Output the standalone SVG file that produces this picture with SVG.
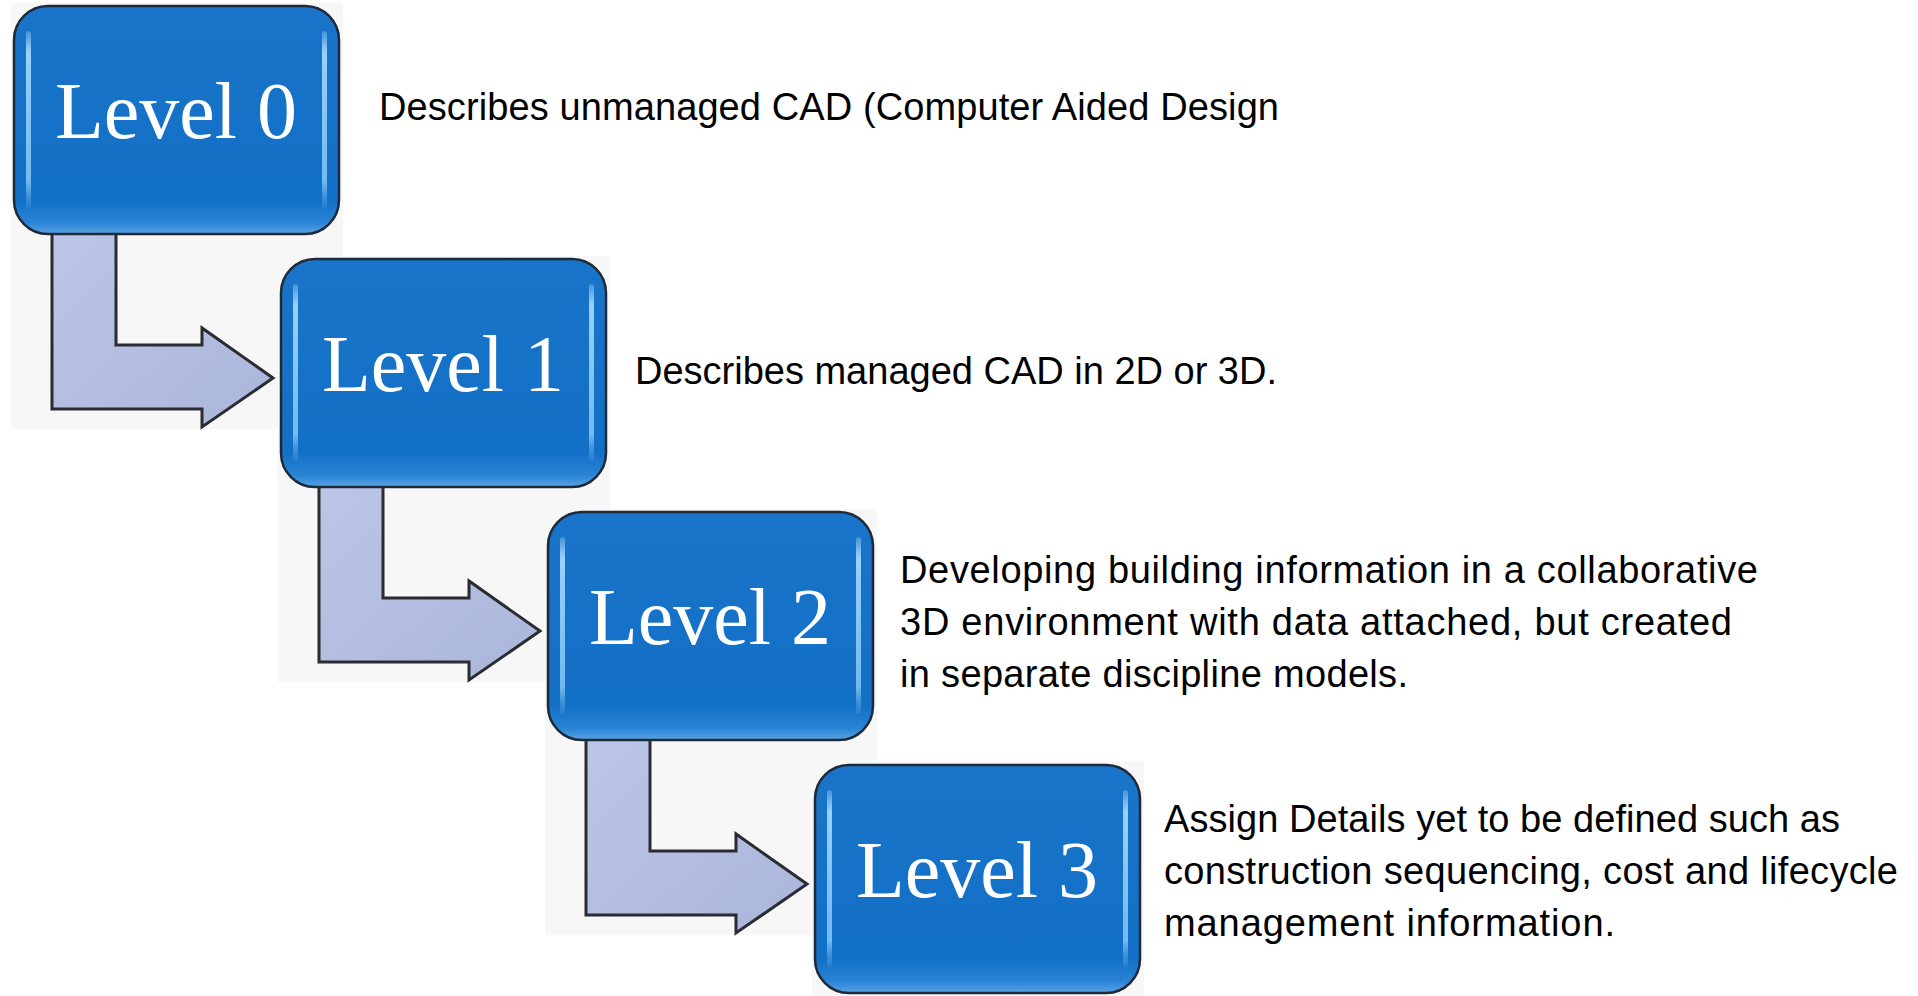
<svg xmlns="http://www.w3.org/2000/svg" width="1918" height="996" viewBox="0 0 1918 996">
  <style>
    .bg { fill: #f7f7f7; }
    .box { fill: url(#boxGrad); stroke: #1e2a38; stroke-width: 2.5; }
    .hl { fill: url(#hlGrad); }
    .lvl { font-family: "Liberation Serif", "DejaVu Serif", serif; font-size: 80px; fill: #ffffff; text-anchor: middle; }
    .desc { font-family: "Liberation Sans", Arial, sans-serif; font-size: 38px; fill: #000000; }
    .arrow { fill: url(#arrowGrad); stroke: #2b2b33; stroke-width: 3; stroke-linejoin: miter; }
  </style>
  <defs>
    <linearGradient id="boxGrad" x1="0" y1="0" x2="0" y2="1">
      <stop offset="0" stop-color="#1a74c9"/>
      <stop offset="0.85" stop-color="#1270c6"/>
      <stop offset="0.95" stop-color="#2a84d6"/>
      <stop offset="1" stop-color="#5aa3e4"/>
    </linearGradient>
    <linearGradient id="hlGrad" x1="0" y1="0" x2="0" y2="1">
      <stop offset="0" stop-color="#a9dcff" stop-opacity="0.3"/>
      <stop offset="0.12" stop-color="#9fd6ff" stop-opacity="0.95"/>
      <stop offset="0.85" stop-color="#7cc2f5" stop-opacity="0.9"/>
      <stop offset="1" stop-color="#5aa8ea" stop-opacity="0.2"/>
    </linearGradient>
    <linearGradient id="arrowGrad" x1="0" y1="0" x2="1" y2="1">
      <stop offset="0" stop-color="#bcc6e6"/>
      <stop offset="1" stop-color="#aab6da"/>
    </linearGradient>
  </defs>

  <g id="backgrounds">
    <rect class="bg" x="11" y="3" width="332" height="426"/>
    <rect class="bg" x="278" y="256" width="332" height="426"/>
    <rect class="bg" x="545" y="509" width="332" height="426"/>
    <rect class="bg" x="812" y="761" width="332" height="235"/>
  </g>

  <g id="connectors">
    <path class="arrow" d="M52,228 L116,228 L116,345 L202,345 L202,328 L273,378 L202,427 L202,409 L52,409 Z"/>
    <path class="arrow" d="M319,481 L383,481 L383,598 L469,598 L469,581 L540,631 L469,680 L469,662 L319,662 Z"/>
    <path class="arrow" d="M586,734 L650,734 L650,851 L736,851 L736,834 L807,884 L736,933 L736,915 L586,915 Z"/>
  </g>

  <g id="level0">
    <rect class="box" x="14" y="6" width="325" height="228" rx="34"/>
    <rect class="hl" x="26" y="31" width="5" height="177" rx="2.5"/>
    <rect class="hl" x="322" y="31" width="5" height="177" rx="2.5"/>
    <text class="lvl" x="176" y="138">Level 0</text>
  </g>
  <g id="level1">
    <rect class="box" x="281" y="259" width="325" height="228" rx="34"/>
    <rect class="hl" x="293" y="284" width="5" height="177" rx="2.5"/>
    <rect class="hl" x="589" y="284" width="5" height="177" rx="2.5"/>
    <text class="lvl" x="443" y="391">Level 1</text>
  </g>
  <g id="level2">
    <rect class="box" x="548" y="512" width="325" height="228" rx="34"/>
    <rect class="hl" x="560" y="537" width="5" height="177" rx="2.5"/>
    <rect class="hl" x="856" y="537" width="5" height="177" rx="2.5"/>
    <text class="lvl" x="710" y="644">Level 2</text>
  </g>
  <g id="level3">
    <rect class="box" x="815" y="765" width="325" height="228" rx="34"/>
    <rect class="hl" x="827" y="790" width="5" height="177" rx="2.5"/>
    <rect class="hl" x="1123" y="790" width="5" height="177" rx="2.5"/>
    <text class="lvl" x="977" y="897">Level 3</text>
  </g>

  <g id="descriptions">
    <text class="desc" x="379" y="120" textLength="900" lengthAdjust="spacing">Describes unmanaged CAD (Computer Aided Design</text>
    <text class="desc" x="635" y="384" textLength="642" lengthAdjust="spacing">Describes managed CAD in 2D or 3D.</text>
    <text class="desc" x="900" y="583" textLength="858" lengthAdjust="spacing">Developing building information in a collaborative</text>
    <text class="desc" x="900" y="635" textLength="832" lengthAdjust="spacing">3D environment with data attached, but created</text>
    <text class="desc" x="900" y="687" textLength="508" lengthAdjust="spacing">in separate discipline models.</text>
    <text class="desc" x="1164" y="832" textLength="676" lengthAdjust="spacing">Assign Details yet to be defined such as</text>
    <text class="desc" x="1164" y="884" textLength="734" lengthAdjust="spacing">construction sequencing, cost and lifecycle</text>
    <text class="desc" x="1164" y="936" textLength="451" lengthAdjust="spacing">management information.</text>
  </g>
</svg>
